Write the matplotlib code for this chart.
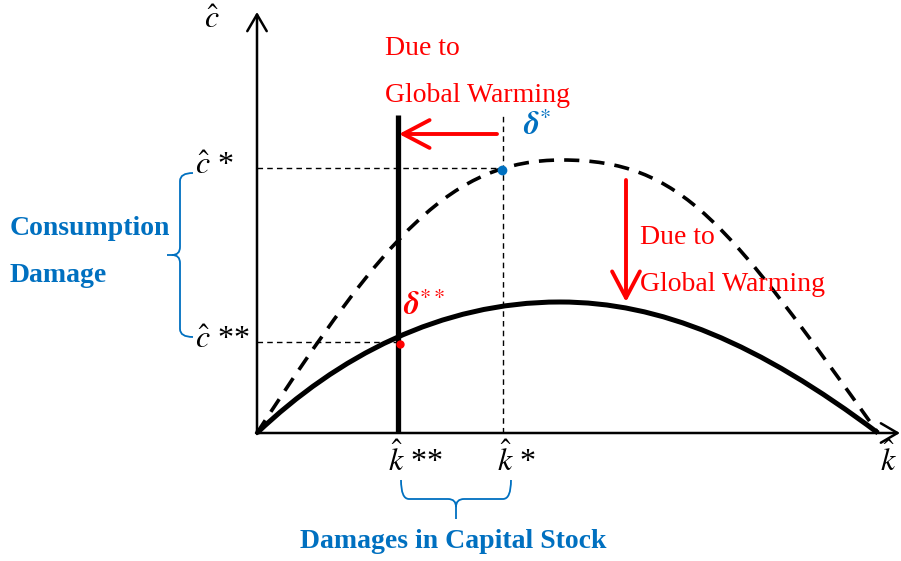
import matplotlib.pyplot as plt
from matplotlib.path import Path
from matplotlib.patches import PathPatch

plt.rcParams['font.family'] = ['Liberation Serif', 'DejaVu Serif']
plt.rcParams['mathtext.fontset'] = 'stix'

RED = '#ff0000'
BLUE = '#0070c0'

# bezier control points of the two curves (origin = axes corner, y up)
before_x = [0, 130, 195, 305, 425, 471, 621]
before_y = [0, 200, 273, 273, 273, 210, 0]
after_x = [0, 80, 183, 303, 403, 501, 621]
after_y = [0, 76, 131, 131, 131, 90, 0]

# steady states
k_star, c_star = 246, 265
k_2star, c_2star = 141, 91

x_end, y_end = 643, 421

fig = plt.figure(figsize=(9.01, 5.61), dpi=100)
ax = fig.add_axes([0, 0, 1, 1])
ax.set_xlim(-257, 644)
ax.set_ylim(-128, 433)
ax.axis('off')


def curve(xs, ys, **kw):
    codes = [Path.MOVETO] + [Path.CURVE4] * 6
    ax.add_patch(PathPatch(Path(list(zip(xs, ys)), codes), fill=False, **kw))


def brace(p0, u, v, L, d1, d2, r, **kw):
    # local (a, b) -> data, a along u, b along v
    def m(a, b):
        return (p0[0] + a * u[0] + b * v[0], p0[1] + a * u[1] + b * v[1])
    h = L / 2
    verts = [m(0, 0), m(0, d1), m(r, d1), m(h - r, d1), m(h, d1), m(h, d1 + r), m(h, d2),
             m(h, d1 + r), m(h, d1), m(h + r, d1), m(L - r, d1), m(L, d1), m(L, 0)]
    codes = [Path.MOVETO, Path.CURVE3, Path.CURVE3, Path.LINETO, Path.CURVE3, Path.CURVE3, Path.LINETO,
             Path.MOVETO, Path.CURVE3, Path.CURVE3, Path.LINETO, Path.CURVE3, Path.CURVE3]
    ax.add_patch(PathPatch(Path(verts, codes), fill=False, **kw))


# axes with open arrow heads
arrow_ax = dict(arrowstyle='->, head_length=1.2, head_width=0.7', lw=1.8, color='k',
                shrinkA=0, shrinkB=0, mutation_scale=10)
ax.annotate('', xy=(x_end, 0), xytext=(-1, 0), arrowprops=arrow_ax)
ax.annotate('', xy=(0, y_end), xytext=(0, -1), arrowprops=arrow_ax)

# curves
curve(before_x, before_y, lw=2.6, color='k', linestyle=(0, (4.2, 2.8)), capstyle='butt')
curve(after_x, after_y, lw=3.6, color='k')

# guide lines
thin = dict(color='k', lw=1.0, linestyle=(0, (4, 3)))
ax.plot([0, k_star], [c_star, c_star], **thin)
ax.plot([0, k_2star], [c_2star, c_2star], **thin)
ax.plot([k_star, k_star], [0, 320], **thin)
ax.plot([k_2star, k_2star], [0, 318], color='k', lw=3.8, solid_capstyle='butt')

# points
ax.plot(k_star - 1, c_star - 2, marker='o', ms=7, color=BLUE, mec='none')
ax.plot(k_2star + 2, c_2star - 2, marker='o', ms=6, color=RED, mec='none')

# red arrows
arrow_red = dict(arrowstyle='->, head_length=1.9, head_width=1.0', lw=2.8, color=RED,
                 shrinkA=0, shrinkB=0, mutation_scale=10)
ax.annotate('', xy=(k_2star + 1, 299), xytext=(k_star - 6, 299), arrowprops=arrow_red)
ax.annotate('', xy=(369, 131), xytext=(369, 253), arrowprops=arrow_red)

# text
fs = 20
ax.text(128, 385, 'Due to', color=RED, fontsize=fs, va='center')
ax.text(128, 338, 'Global Warming', color=RED, fontsize=fs, va='center')
ax.text(383, 196, 'Due to', color=RED, fontsize=fs, va='center')
ax.text(383, 149, 'Global Warming', color=RED, fontsize=fs, va='center')
ax.text(-247, 205, 'Consumption', color=BLUE, fontsize=fs, fontweight='bold', va='center')
ax.text(-247, 158, 'Damage', color=BLUE, fontsize=fs, fontweight='bold', va='center')
ax.text(196, -108, 'Damages in Capital Stock', color=BLUE, fontsize=fs, fontweight='bold',
        ha='center', va='center')

ms = 23
ax.text(-45, 413, r'$\hat{c}$', fontsize=ms, ha='center', va='center')
ax.text(-62, c_star + 2, r'$\hat{c}$ *', fontsize=ms, ha='left', va='center')
ax.text(-62, c_2star + 2, r'$\hat{c}$ **', fontsize=ms, ha='left', va='center')
ax.text(k_2star - 10, -27, r'$\hat{k}$ **', fontsize=ms, ha='left', va='center')
ax.text(k_star - 6, -27, r'$\hat{k}$ *', fontsize=ms, ha='left', va='center')
ax.text(623, -27, r'$\hat{k}$', fontsize=ms, ha='left', va='center')
ax.text(266, 306, r'$\boldsymbol{\delta}^{*}$', fontsize=ms, color=BLUE, ha='left', va='center')
ax.text(146, 126, r'$\boldsymbol{\delta}^{**}$', fontsize=ms, color=RED, ha='left', va='center')

# braces
brace((-64, 260), (0, -1), (-1, 0), 164, 13, 26, 8, color=BLUE, lw=1.3)
brace((144, -47), (1, 0), (0, -1), 110, 19, 39, 8, color=BLUE, lw=1.3)

fig.savefig('out.png', dpi=100)
